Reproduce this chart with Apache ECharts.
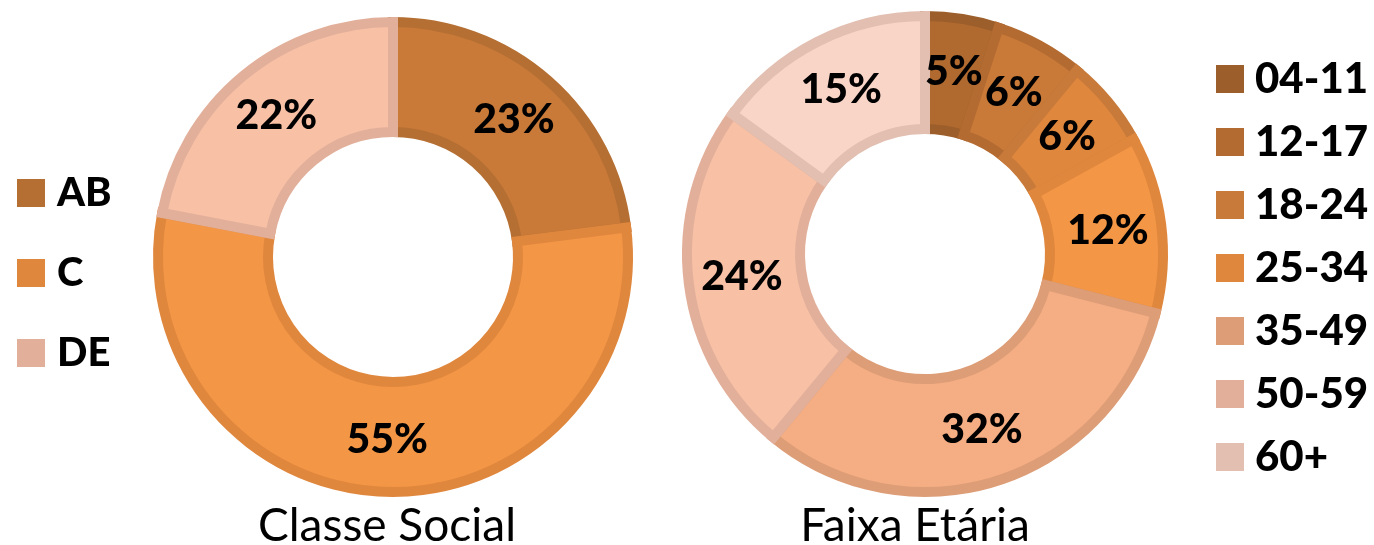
<!DOCTYPE html>
<html><head><meta charset="utf-8">
<script src="https://cdn.jsdelivr.net/npm/echarts@6/dist/echarts.min.js"></script>
<style>html,body{margin:0;padding:0;background:#fff}#c{width:1374px;height:545px}</style>
</head><body><div id="c"></div>
<script>
const classeCats = ['AB', 'C', 'DE'];
const classeVals = [23, 55, 22];
const classeFill = ['#C97A38', '#F39646', '#F8C0A5'];
const classeBorder = ['#B56F33', '#E0873E', '#E2AF9A'];

const faixaCats = ['04-11', '12-17', '18-24', '25-34', '35-49', '50-59', '60+'];
const faixaVals = [5, 6, 6, 12, 32, 24, 15];
const faixaFill = ['#B06A30', '#C97A38', '#E0873E', '#F39646', '#F5AD83', '#F8C0A5', '#F9D5C8'];
const faixaBorder = ['#9C5E2A', '#B36B32', '#C87A3A', '#E0873E', '#DD9D77', '#E2AF9A', '#E2BFB1'];

const titles = ['Classe Social', 'Faixa Etária'];
const FONT = 'Lato';

function mk(cats, vals, fill, border) {
  return cats.map((n, i) => ({
    name: n, value: vals[i],
    itemStyle: { color: fill[i], borderColor: border[i] }
  }));
}
function legendData(cats, border) {
  return cats.map((n, i) => ({ name: n, itemStyle: { color: border[i], borderWidth: 0 } }));
}
const labelCfg = {
  show: true, position: 'inside', formatter: '{c}%',
  color: '#000', fontFamily: FONT, fontWeight: 900, fontSize: 41
};
const chart = echarts.init(document.getElementById('c'), null, { renderer: 'canvas' });
chart.setOption({
  animation: false,
  backgroundColor: '#fff',
  title: [
    { text: titles[0], left: 382, top: 498, textAlign: 'center',
      textStyle: { fontFamily: FONT, fontWeight: 'normal', fontSize: 46, color: '#000' } },
    { text: titles[1], left: 910, top: 498, textAlign: 'center',
      textStyle: { fontFamily: FONT, fontWeight: 'normal', fontSize: 46, color: '#000' } }
  ],
  legend: [
    { orient: 'vertical', left: 12, top: 168, padding: 5, itemWidth: 28, itemHeight: 28, itemGap: 40,
      icon: 'rect', data: legendData(classeCats, classeBorder),
      textStyle: { fontFamily: FONT, fontWeight: 900, fontSize: 40, lineHeight: 40, color: '#000', padding: [0, 0, 0, 7] } },
    { orient: 'vertical', left: 1211, top: 53, padding: 5, itemWidth: 28, itemHeight: 28, itemGap: 21,
      icon: 'rect', data: legendData(faixaCats, faixaBorder),
      textStyle: { fontFamily: FONT, fontWeight: 900, fontSize: 42, lineHeight: 42, color: '#000', padding: [0, 0, 0, 6] } }
  ],
  series: [
    { type: 'pie', center: [393, 257], radius: [125, 235], startAngle: 90, clockwise: true,
      label: labelCfg, labelLine: { show: false }, labelLayout: { hideOverlap: false },
      itemStyle: { borderWidth: 10, borderJoin: 'miter' },
      emphasis: { disabled: true },
      data: mk(classeCats, classeVals, classeFill, classeBorder) },
    { type: 'pie', center: [925, 254], radius: [125, 238], startAngle: 90, clockwise: true,
      label: labelCfg, labelLine: { show: false }, labelLayout: { hideOverlap: false },
      itemStyle: { borderWidth: 10, borderJoin: 'miter' },
      emphasis: { disabled: true },
      data: mk(faixaCats, faixaVals, faixaFill, faixaBorder) }
  ]
});
</script></body></html>
